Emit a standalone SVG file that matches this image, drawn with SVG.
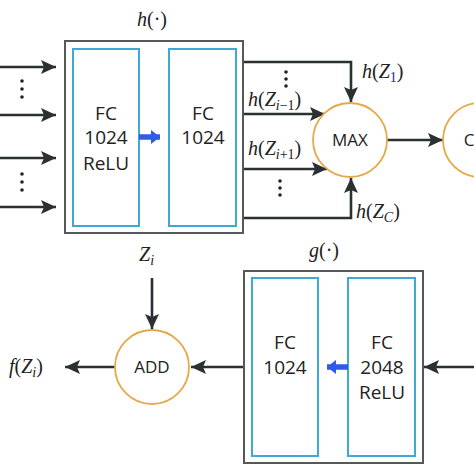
<svg xmlns="http://www.w3.org/2000/svg" width="474" height="474" viewBox="0 0 474 474">
<style>
.outer{fill:#fff;stroke:#55595c;stroke-width:2}
.inner{fill:#fff;stroke:#3fa9d6;stroke-width:2}
.circ{fill:#fff;stroke:#e6a94a;stroke-width:1.8}
.ln{fill:none;stroke:#2b3133;stroke-width:2.6}
.blue{fill:none;stroke:#2f5be8;stroke-width:5.5}
.t{font-family:"Open Sans",Lato,sans-serif;font-size:19px;fill:#222;text-anchor:middle}
.c{font-family:"Open Sans",Lato,sans-serif;font-size:17px;fill:#222;text-anchor:middle}
.m{font-family:"Liberation Serif",serif;font-size:20px;fill:#222}
.dot{fill:#222}
</style>
<defs>
<marker id="ah" markerUnits="userSpaceOnUse" markerWidth="16" markerHeight="14" refX="15" refY="7" orient="auto">
<path d="M0,0 L15,7 L0,14 L3,7 z" fill="#2b3133"/>
</marker>
<marker id="bh" markerUnits="userSpaceOnUse" markerWidth="10" markerHeight="14" refX="9" refY="7" orient="auto">
<path d="M0,0 L9,7 L0,14 z" fill="#2f5be8"/>
</marker>
</defs>

<g id="connectors">
<line class="ln" x1="0" y1="67" x2="56" y2="67" marker-end="url(#ah)"/>
<line class="ln" x1="0" y1="115" x2="56" y2="115" marker-end="url(#ah)"/>
<line class="ln" x1="0" y1="158" x2="56" y2="158" marker-end="url(#ah)"/>
<line class="ln" x1="0" y1="207" x2="56" y2="207" marker-end="url(#ah)"/>
<polyline class="ln" points="243,62 351,62 351,102" marker-end="url(#ah)"/>
<line class="ln" x1="243" y1="114" x2="325" y2="114" marker-end="url(#ah)"/>
<line class="ln" x1="243" y1="169" x2="327" y2="169" marker-end="url(#ah)"/>
<polyline class="ln" points="243,218 351,218 351,178" marker-end="url(#ah)"/>
<line class="ln" x1="387" y1="140" x2="443" y2="140" marker-end="url(#ah)"/>
<line class="ln" x1="474" y1="367" x2="424" y2="367" marker-end="url(#ah)"/>
<line class="ln" x1="244" y1="367" x2="191" y2="367" marker-end="url(#ah)"/>
<line class="ln" x1="115" y1="367" x2="65" y2="367" marker-end="url(#ah)"/>
<line class="ln" x1="152" y1="278" x2="152" y2="329" marker-end="url(#ah)"/>
</g>

<g id="dots">
<circle class="dot" cx="22" cy="81" r="1.8"/><circle class="dot" cx="22" cy="89" r="1.8"/><circle class="dot" cx="22" cy="97" r="1.8"/>
<circle class="dot" cx="22" cy="174" r="1.8"/><circle class="dot" cx="22" cy="182" r="1.8"/><circle class="dot" cx="22" cy="190" r="1.8"/>
<circle class="dot" cx="286" cy="72" r="1.8"/><circle class="dot" cx="286" cy="79" r="1.8"/><circle class="dot" cx="286" cy="86" r="1.8"/>
<circle class="dot" cx="280" cy="181" r="1.8"/><circle class="dot" cx="280" cy="188" r="1.8"/><circle class="dot" cx="280" cy="195" r="1.8"/>
</g>

<g id="h-block">
<rect class="outer" x="65" y="41" width="178" height="192"/>
<text class="m" x="137" y="26"><tspan font-style="italic">h</tspan>(·)</text>
</g>
<g id="fc1">
<rect class="inner" x="73" y="49" width="66" height="177"/>
<text class="t" x="106" y="120">FC</text>
<text class="t" x="106" y="144">1024</text>
<text class="t" x="106" y="170">ReLU</text>
</g>
<g id="fc2">
<rect class="inner" x="169" y="49" width="67" height="177"/>
<text class="t" x="203" y="120">FC</text>
<text class="t" x="203" y="144">1024</text>
</g>
<line class="blue" x1="139" y1="137" x2="160" y2="137" marker-end="url(#bh)"/>

<g id="max">
<circle class="circ" cx="350" cy="140" r="37"/>
<text class="c" x="350" y="146">MAX</text>
</g>
<g id="c-node">
<circle class="circ" cx="480" cy="140" r="37"/>
<text class="c" x="469" y="146">C</text>
</g>

<g id="labels">
<text class="m" x="362" y="78"><tspan font-style="italic">h</tspan>(<tspan font-style="italic">Z</tspan><tspan font-size="14" dy="4" fill="#1a2a8a">1</tspan><tspan dy="-4">)</tspan></text>
<text class="m" x="248" y="106"><tspan font-style="italic">h</tspan>(<tspan font-style="italic">Z</tspan><tspan font-size="14" dy="4"><tspan font-style="italic">i</tspan>−1</tspan><tspan dy="-4">)</tspan></text>
<text class="m" x="248" y="155"><tspan font-style="italic">h</tspan>(<tspan font-style="italic">Z</tspan><tspan font-size="14" dy="4"><tspan font-style="italic">i</tspan>+1</tspan><tspan dy="-4">)</tspan></text>
<text class="m" x="356" y="218"><tspan font-style="italic">h</tspan>(<tspan font-style="italic">Z</tspan><tspan font-size="14" dy="4" font-style="italic">C</tspan><tspan dy="-4">)</tspan></text>
<text class="m" x="139" y="261"><tspan font-style="italic">Z</tspan><tspan font-size="14" dy="4" font-style="italic">i</tspan></text>
<text class="m" x="9" y="373"><tspan font-style="italic">f</tspan>(<tspan font-style="italic">Z</tspan><tspan font-size="14" dy="4" font-style="italic">i</tspan><tspan dy="-4">)</tspan></text>
</g>

<g id="g-block">
<rect class="outer" x="244" y="271" width="179" height="192"/>
<text class="m" x="309" y="257"><tspan font-style="italic">g</tspan>(·)</text>
</g>
<g id="fc3">
<rect class="inner" x="252" y="278" width="66" height="178"/>
<text class="t" x="285" y="349">FC</text>
<text class="t" x="285" y="374">1024</text>
</g>
<g id="fc4">
<rect class="inner" x="348" y="278" width="67" height="178"/>
<text class="t" x="382" y="349">FC</text>
<text class="t" x="382" y="374">2048</text>
<text class="t" x="382" y="399">ReLU</text>
</g>
<line class="blue" x1="348" y1="367" x2="327" y2="367" marker-end="url(#bh)"/>

<g id="add">
<circle class="circ" cx="152" cy="367" r="37"/>
<text class="c" x="152" y="373">ADD</text>
</g>
</svg>
